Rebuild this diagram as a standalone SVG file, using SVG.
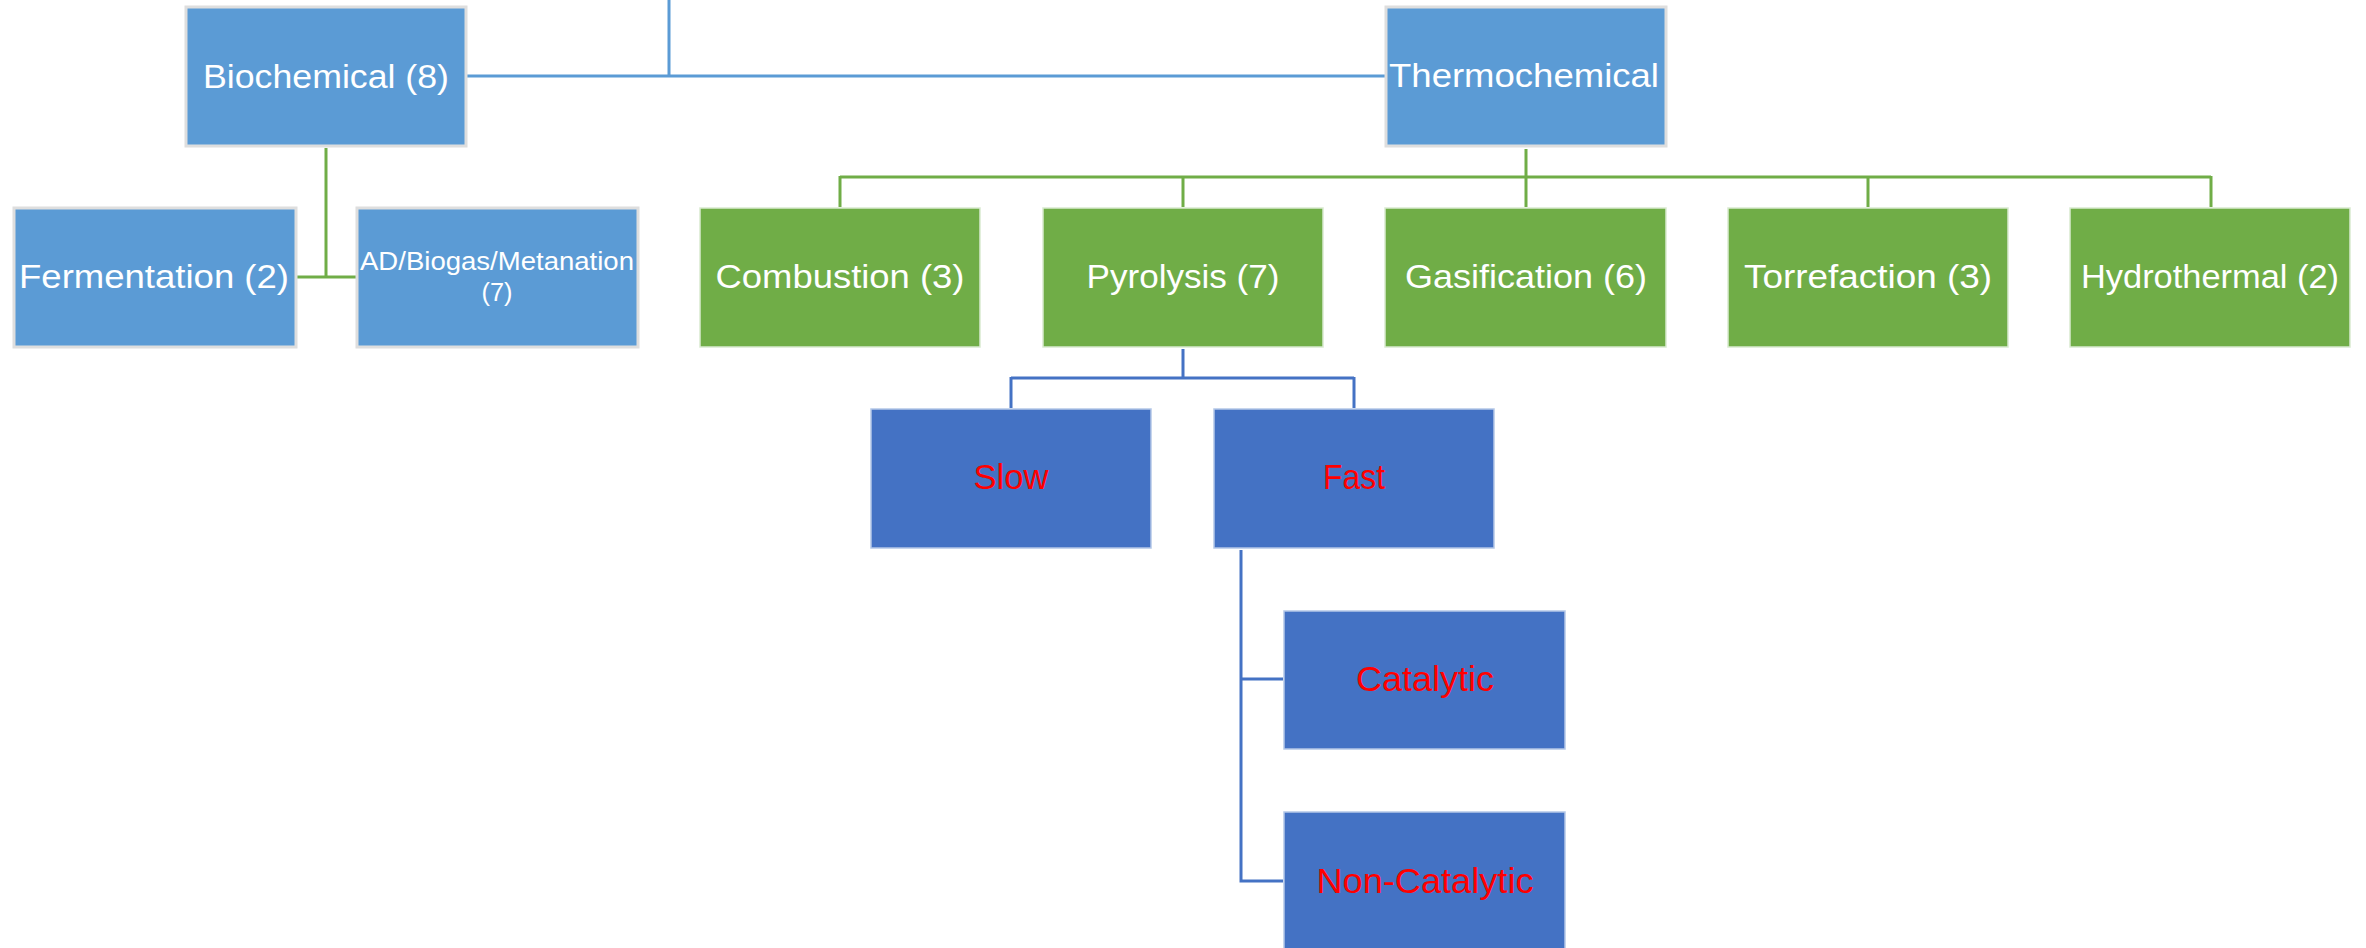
<svg xmlns="http://www.w3.org/2000/svg" width="2366" height="948" viewBox="0 0 2366 948">
<style>
.top{fill:#5b9bd5;stroke:#dedede;stroke-width:3}
.grn{fill:#70ad47;stroke:#d9ead0;stroke-width:1.5}
.dk{fill:#4472c4;stroke:#b4c7e7;stroke-width:1.5}
text{font-family:"Liberation Sans Narrow","Liberation Sans",Arial,sans-serif;text-anchor:middle}
.w{fill:#ffffff;font-size:34px}
.r{fill:#ff0000;font-size:35px}
.s{fill:#ffffff;font-size:25px}
.cb{fill:none;stroke:#5b9bd5;stroke-width:3}
.cg{fill:none;stroke:#70ad47;stroke-width:3}
.cd{fill:none;stroke:#4472c4;stroke-width:3}
</style>
<rect width="2366" height="948" fill="#ffffff"/>
<g id="connectors">
<path class="cb" d="M669 0V76M467 76H1385"/>
<path class="cg" d="M326 148V277M297 277H356"/>
<path class="cg" d="M1526 149V177M840 177H2211M840 176V207M1183 176V207M1526 176V207M1868 176V207M2211 176V207"/>
<path class="cd" d="M1183 349V378M1011 378H1354M1011 377V408M1354 377V408"/>
<path class="cd" d="M1241 550V881H1283M1241 679H1283"/>
</g>
<g id="biochemical"><rect class="top" x="186" y="7" width="280" height="139"/><text class="w" x="326" y="88" textLength="246" lengthAdjust="spacingAndGlyphs">Biochemical (8)</text></g>
<g id="thermochemical"><rect class="top" x="1386" y="7" width="280" height="139"/><text class="w" x="1524" y="87" textLength="270" lengthAdjust="spacingAndGlyphs">Thermochemical</text></g>
<g id="fermentation"><rect class="top" x="14" y="208" width="282" height="139"/><text class="w" x="154" y="288" textLength="270" lengthAdjust="spacingAndGlyphs">Fermentation (2)</text></g>
<g id="ad"><rect class="top" x="357" y="208" width="281" height="139"/><text class="s" x="497" y="270" textLength="274" lengthAdjust="spacingAndGlyphs">AD/Biogas/Metanation</text><text class="s" x="497" y="301" textLength="31" lengthAdjust="spacingAndGlyphs">(7)</text></g>
<g id="combustion"><rect class="grn" x="700" y="208" width="280" height="139"/><text class="w" x="840" y="288" textLength="249" lengthAdjust="spacingAndGlyphs">Combustion (3)</text></g>
<g id="pyrolysis"><rect class="grn" x="1043" y="208" width="280" height="139"/><text class="w" x="1183" y="288" textLength="193" lengthAdjust="spacingAndGlyphs">Pyrolysis (7)</text></g>
<g id="gasification"><rect class="grn" x="1385" y="208" width="281" height="139"/><text class="w" x="1526" y="288" textLength="242" lengthAdjust="spacingAndGlyphs">Gasification (6)</text></g>
<g id="torrefaction"><rect class="grn" x="1728" y="208" width="280" height="139"/><text class="w" x="1868" y="288" textLength="248" lengthAdjust="spacingAndGlyphs">Torrefaction (3)</text></g>
<g id="hydrothermal"><rect class="grn" x="2070" y="208" width="280" height="139"/><text class="w" x="2210" y="288" textLength="258" lengthAdjust="spacingAndGlyphs">Hydrothermal (2)</text></g>
<g id="slow"><rect class="dk" x="871" y="409" width="280" height="139"/><text class="r" x="1011" y="489" textLength="75" lengthAdjust="spacingAndGlyphs">Slow</text></g>
<g id="fast"><rect class="dk" x="1214" y="409" width="280" height="139"/><text class="r" x="1354" y="489" textLength="62" lengthAdjust="spacingAndGlyphs">Fast</text></g>
<g id="catalytic"><rect class="dk" x="1284" y="611" width="281" height="138"/><text class="r" x="1425" y="691" textLength="138" lengthAdjust="spacingAndGlyphs">Catalytic</text></g>
<g id="noncatalytic"><rect class="dk" x="1284" y="812" width="281" height="139"/><text class="r" x="1425" y="893" textLength="217" lengthAdjust="spacingAndGlyphs">Non-Catalytic</text></g>
</svg>
